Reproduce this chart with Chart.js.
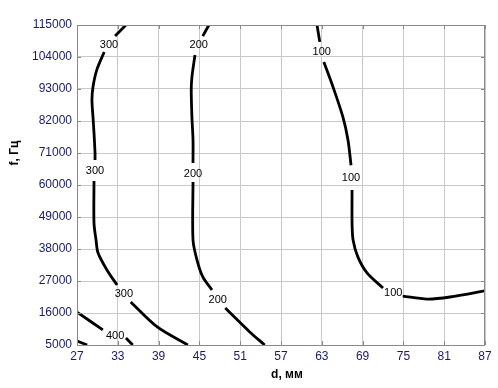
<!DOCTYPE html>
<html>
<head>
<meta charset="utf-8">
<script src="https://cdn.jsdelivr.net/npm/chart.js@4/dist/chart.umd.min.js"></script>
<style>
  html, body { margin: 0; padding: 0; background: #fff; }
  #wrap { width: 498px; height: 388px; }
</style>
</head>
<body>
<div id="wrap"><canvas id="c"></canvas></div>
<script>
// axis ticks
const xTicks = [27, 33, 39, 45, 51, 57, 63, 69, 75, 81, 87];
const yTicks = [5000, 16000, 27000, 38000, 49000, 60000, 71000, 82000, 93000, 104000, 115000];

// contour lines (null = gap where the label sits)
const c100x = [62.3, 62.7, null, 63.3, 64.65, 66.1, 66.85, 67.3, null, 67.45, 67.45, 67.6, 68.3, 69.65, 72.0, null, 74.9, 78.5, 81.85, 87];
const c100y = [115000, 109200, null, 102300, 93700, 83400, 75500, 66800, null, 58300, 46900, 41100, 35300, 29800, 24600, null, 21800, 20800, 21500, 23600];

const c200x = [46.4, 45.5, null, 44.35, 43.9, 43.8, 43.9, 44.06, 44.06, null, 44.06, 44.06, 44.65, 45.5, 46.85, null, 48.8, 52.4, 54.6];
const c200y = [115000, 111200, null, 104700, 97100, 92700, 83400, 75500, 67600, null, 61000, 41100, 34200, 28400, 23900, null, 17700, 9500, 5000];

const c300x = [34.2, 32.6, null, 31.0, 29.9, 29.35, 29.2, 29.35, 29.5, 29.65, 29.65, null, 29.5, 29.5, 29.8, 30.1, 31.4, 32.9, null, 34.9, 38.8, 43.3];
const c300y = [115000, 111200, null, 105700, 99500, 93700, 89200, 83400, 77900, 71000, 68600, null, 61400, 46900, 41100, 36600, 30800, 25600, null, 19800, 11200, 5000];

const c400x = [27, 30.8, null, 34.2, 35.2];
const c400y = [16300, 10200, null, 7400, 5000];

const c500x = [27, 28.5];
const c500y = [6400, 5000];

// contour labels
const labelX = [31.7, 29.65, 33.9, 44.9, 44.06, 47.7, 63.0, 67.3, 73.5, 32.6];
const labelY = [108100, 64800, 22500, 108100, 63800, 20500, 105700, 62400, 22900, 8100];
const labelText = ['300', '300', '300', '200', '200', '200', '100', '100', '100', '400'];

function pts(xs, ys) {
  return xs.map((x, i) => ({ x: x, y: ys[i] }));
}

function line(xs, ys) {
  return {
    data: pts(xs, ys),
    showLine: true,
    borderColor: '#000',
    borderWidth: 2.8,
    pointRadius: 0,
    tension: 0.3,
    spanGaps: false
  };
}

const boxPlugin = {
  id: 'box',
  afterDatasetsDraw(chart) {
    const { ctx, chartArea: a, scales } = chart;
    ctx.save();
    // contour labels
    ctx.font = '11px "Liberation Sans", Arial, sans-serif';
    ctx.fillStyle = '#000';
    ctx.textAlign = 'center';
    ctx.textBaseline = 'middle';
    labelText.forEach((t, i) => {
      ctx.fillText(t, scales.x.getPixelForValue(labelX[i]), scales.y.getPixelForValue(labelY[i]));
    });
    // box
    ctx.strokeStyle = '#8a8a8a';
    ctx.lineWidth = 1;
    ctx.strokeRect(a.left + 0.5, a.top + 0.5, a.right - a.left - 1, a.bottom - a.top);
    // inner ticks
    ctx.beginPath();
    xTicks.forEach(v => {
      const px = Math.round(scales.x.getPixelForValue(v)) + 0.5;
      ctx.moveTo(px, a.bottom); ctx.lineTo(px, a.bottom - 4);
      ctx.moveTo(px, a.top); ctx.lineTo(px, a.top + 4);
    });
    yTicks.forEach(v => {
      const py = Math.round(scales.y.getPixelForValue(v)) + 0.5;
      ctx.moveTo(a.left, py); ctx.lineTo(a.left + 4, py);
      ctx.moveTo(a.right, py); ctx.lineTo(a.right - 4, py);
    });
    ctx.stroke();
    // axis titles
    ctx.fillStyle = '#000';
    ctx.font = 'bold 12px "Liberation Sans", Arial, sans-serif';
    ctx.fillText('d, мм', 287, 375);
    ctx.translate(15, 153);
    ctx.rotate(-Math.PI / 2);
    ctx.fillText('f, Гц', 0, 0);
    ctx.restore();
  }
};

const tickFont = { family: '"Liberation Sans", Arial, sans-serif', size: 12 };

new Chart(document.getElementById('c'), {
  type: 'scatter',
  data: {
    datasets: [
      line(c100x, c100y),
      line(c200x, c200y),
      line(c300x, c300y),
      line(c400x, c400y),
      line(c500x, c500y)
    ]
  },
  options: {
    responsive: true,
    maintainAspectRatio: false,
    animation: false,
    layout: { padding: { top: 25, right: 13, left: 0, bottom: 0 } },
    plugins: { legend: { display: false }, tooltip: { enabled: false } },
    scales: {
      x: {
        type: 'linear',
        min: 27, max: 87,
        afterBuildTicks: s => { s.ticks = xTicks.map(v => ({ value: v })); },
        afterFit: s => { s.height = 43; },
        ticks: { color: '#1a1a66', font: tickFont, padding: 4, maxRotation: 0, callback: v => String(v) },
        grid: { color: '#c8c8c8', borderDash: [1, 2], drawTicks: false, lineWidth: 1 },
        border: { display: false }
      },
      y: {
        type: 'linear',
        min: 5000, max: 115000,
        afterBuildTicks: s => { s.ticks = yTicks.map(v => ({ value: v })); },
        afterFit: s => { s.width = 77; },
        ticks: { color: '#1a1a66', font: tickFont, padding: 5, callback: v => String(v) },
        grid: { color: '#c8c8c8', borderDash: [1, 2], drawTicks: false, lineWidth: 1 },
        border: { display: false }
      }
    }
  },
  plugins: [boxPlugin]
});
</script>
</body>
</html>
